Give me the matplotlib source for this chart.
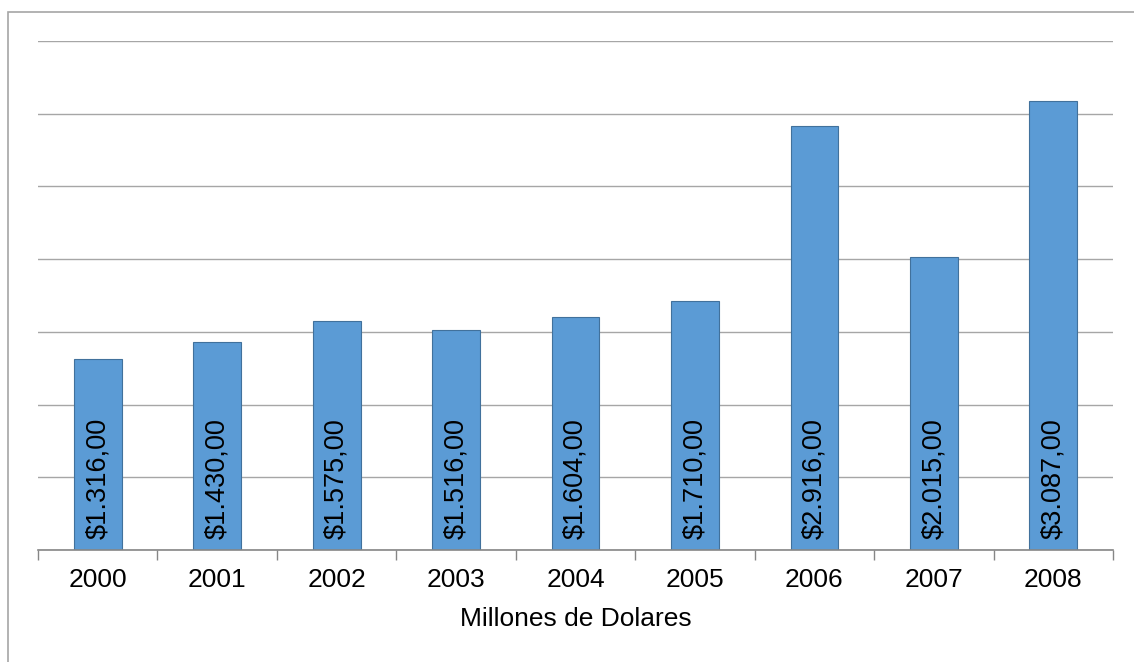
import matplotlib
matplotlib.use('Agg')
import matplotlib.pyplot as plt
from matplotlib.patches import Rectangle
from matplotlib.ticker import MultipleLocator, FixedLocator

# data
years = ['2000', '2001', '2002', '2003', '2004', '2005', '2006', '2007', '2008']
valores = [1316, 1430, 1575, 1516, 1604, 1710, 2916, 2015, 3087]

plt.rcParams['font.family'] = ['Liberation Sans', 'DejaVu Sans']

W, H = 1134, 662
fig = plt.figure(figsize=(W / 100, H / 100), dpi=100)
ax = fig.add_axes([38 / W, 1 - 550 / H, (1113 - 38) / W, (550 - 41) / H])

# outer frame (right and bottom edges fall outside the image)
fig.patches.append(Rectangle((8 / W, -0.05), 1.2, 1 - 12 / H + 0.05,
                             transform=fig.transFigure, fill=False,
                             edgecolor='#a6a6a6', linewidth=1.2, zorder=0))

x = range(len(years))
ax.bar(x, valores, width=0.4, color='#5b9bd5', edgecolor='#41719c',
       linewidth=0.8, zorder=3)

for xi, v in zip(x, valores):
    s = '${:,.2f}'.format(v).replace(',', 'X').replace('.', ',').replace('X', '.')
    ax.text(xi, 75, s, rotation=90, ha='center', va='bottom',
            fontsize=19.5, color='black', zorder=4)

ax.set_xlim(-0.5, len(years) - 0.5)
ax.set_ylim(0, 3500)
ax.yaxis.set_major_locator(MultipleLocator(500))
ax.grid(True, axis='y', color='#a6a6a6', linewidth=1.0, zorder=0)
ax.set_yticklabels([])
ax.tick_params(axis='y', length=0)

ax.set_xticks(list(x))
ax.set_xticklabels(years, fontsize=19)
ax.tick_params(axis='x', which='major', length=0, pad=13)
ax.xaxis.set_minor_locator(FixedLocator([i - 0.5 for i in range(len(years) + 1)]))
ax.tick_params(axis='x', which='minor', length=7, width=1, color='#868686')

for s in ['top', 'right', 'left']:
    ax.spines[s].set_visible(False)
ax.spines['bottom'].set_color('#868686')
ax.spines['bottom'].set_linewidth(1.2)
ax.spines['bottom'].set_zorder(5)

ax.set_xlabel('Millones de Dolares', fontsize=19, labelpad=11)

fig.savefig('out.png', dpi=100)
